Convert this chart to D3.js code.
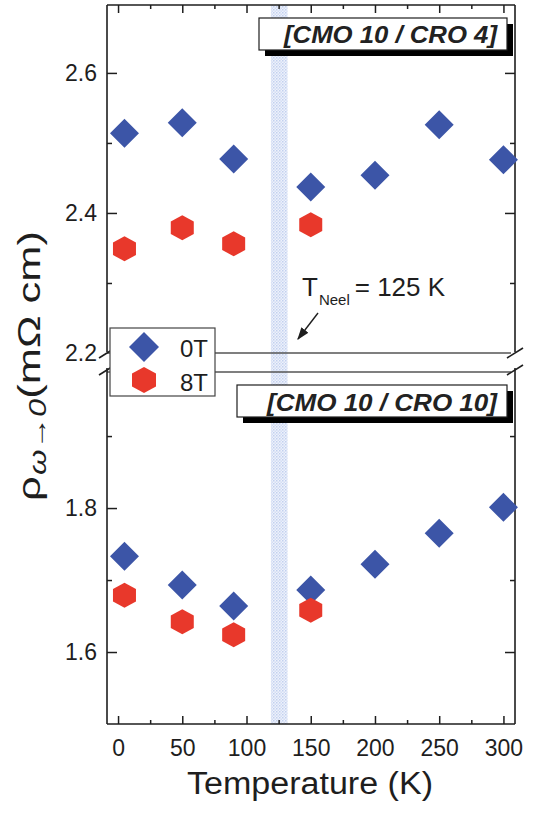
<!DOCTYPE html>
<html><head><meta charset="utf-8">
<script src="https://cdn.jsdelivr.net/npm/d3@7"></script>
<style>
html,body{margin:0;padding:0;background:#fff;}
svg{display:block;font-family:"Liberation Sans",Arial,sans-serif;}
</style></head>
<body><svg id="c" width="533" height="814"></svg>
<script>
// ---- data ----
const temps0T = [5, 50, 90, 150, 200, 250, 300];
const temps8T = [5, 50, 90, 150];
const top0T = [2.514, 2.529, 2.477, 2.437, 2.454, 2.526, 2.476];
const top8T = [2.349, 2.379, 2.356, 2.383];
const bot0T = [1.733, 1.693, 1.664, 1.686, 1.722, 1.765, 1.801];
const bot8T = [1.679, 1.642, 1.624, 1.658];
const xTicks = [0, 50, 100, 150, 200, 250, 300];
const xMinor = [25, 75, 125, 175, 225, 275];
const topTicks = [2.2, 2.4, 2.6];
const topMinor = [2.3, 2.5];
const botTicks = [1.6, 1.8];
const botMinor = [1.7, 1.9];
const neelBand = [119, 132];
const legendLabels = ["0T", "8T"];
const panelLabels = ["[CMO 10 / CRO 4]", "[CMO 10 / CRO 10]"];

// ---- layout ----
const L = 107, R = 515, T = 5, B = 724, brkTop = 353, brkBot = 372;
const blue = "#3c55a7", red = "#e8382b", ink = "#1e1e1e";

const svg = d3.select("#c");
const x = d3.scaleLinear().domain([-8.6, 309]).range([L, R]);
const yTop = d3.scaleLinear().domain([2.2, 2.697]).range([brkTop, T]);
const yBot = d3.scaleLinear().domain([1.5, 1.989]).range([B, brkBot]);

// pattern for Neel band
const defs = svg.append("defs");
const pat = defs.append("pattern").attr("id","dots").attr("width",3).attr("height",3).attr("patternUnits","userSpaceOnUse");
pat.append("rect").attr("width",3).attr("height",3).attr("fill","#eef2fb");
pat.append("rect").attr("width",1.5).attr("height",1.5).attr("fill","#c2d0ef");
pat.append("rect").attr("x",1.5).attr("y",1.5).attr("width",1.5).attr("height",1.5).attr("fill","#d3ddf4");
defs.append("marker").attr("id","arr").attr("viewBox","0 0 10 10").attr("refX",9).attr("refY",5)
  .attr("markerWidth",9).attr("markerHeight",9).attr("orient","auto")
  .append("path").attr("d","M0,1.5 L10,5 L0,8.5 Z").attr("fill",ink);

svg.append("rect").attr("x", x(neelBand[0])).attr("y", T).attr("width", x(neelBand[1]) - x(neelBand[0]))
  .attr("height", B - T).attr("fill","url(#dots)");

// break lines
[brkTop, brkBot].forEach(yy => svg.append("line").attr("x1", L).attr("x2", R - 4).attr("y1", yy).attr("y2", yy)
  .attr("stroke","#555").attr("stroke-width",1.6));

// frame
const fr = svg.append("g").attr("stroke", ink).attr("stroke-width", 1.6).attr("fill","none");
fr.append("line").attr("x1",L).attr("x2",R).attr("y1",T).attr("y2",T);
fr.append("line").attr("x1",L).attr("x2",R).attr("y1",B).attr("y2",B);
fr.append("line").attr("x1",L).attr("x2",L).attr("y1",T).attr("y2",brkTop-1);
fr.append("line").attr("x1",L).attr("x2",L).attr("y1",brkBot-4).attr("y2",B);
fr.append("line").attr("x1",R).attr("x2",R).attr("y1",T).attr("y2",brkTop-1);
fr.append("line").attr("x1",R).attr("x2",R).attr("y1",brkBot-4).attr("y2",B);
// break slashes
[[L, brkTop], [L, brkBot-2], [R, brkTop], [R, brkBot-2]].forEach(([bx, by]) =>
  fr.append("line").attr("x1", bx-8).attr("y1", by+5).attr("x2", bx+8).attr("y2", by-5));

function styleAxis(g){
  g.select(".domain").remove();
  g.selectAll(".tick line").attr("stroke", ink).attr("stroke-width", 1.5);
  g.selectAll(".tick text").attr("fill", ink).attr("font-size", 23).attr("font-family",'"Liberation Sans",Arial,sans-serif');
}
// x axes
svg.append("g").attr("transform",`translate(0,${B})`)
  .call(d3.axisBottom(x).tickValues(xTicks).tickSize(-8).tickPadding(16).tickFormat(d3.format("d"))).call(styleAxis);
svg.append("g").attr("transform",`translate(0,${B})`)
  .call(d3.axisBottom(x).tickValues(xMinor).tickSize(-4).tickFormat("")).call(styleAxis);
svg.append("g").attr("transform",`translate(0,${T})`)
  .call(d3.axisTop(x).tickValues(xTicks).tickSize(-8).tickFormat("")).call(styleAxis);
svg.append("g").attr("transform",`translate(0,${T})`)
  .call(d3.axisTop(x).tickValues(xMinor).tickSize(-4).tickFormat("")).call(styleAxis);

// y axes
function yAxes(scale, major, minor){
  const gl = svg.append("g").attr("transform",`translate(${L},0)`)
    .call(d3.axisLeft(scale).tickValues(major).tickSize(-10).tickPadding(10).tickFormat(d3.format(".1f"))).call(styleAxis);
  gl.selectAll(".tick").filter(d => d === 2.2).select("line").remove();
  svg.append("g").attr("transform",`translate(${L},0)`)
    .call(d3.axisLeft(scale).tickValues(minor).tickSize(-5).tickFormat("")).call(styleAxis);
  const gr = svg.append("g").attr("transform",`translate(${R},0)`)
    .call(d3.axisRight(scale).tickValues(major).tickSize(-10).tickFormat("")).call(styleAxis);
  gr.selectAll(".tick").filter(d => d === 2.2).remove();
  svg.append("g").attr("transform",`translate(${R},0)`)
    .call(d3.axisRight(scale).tickValues(minor).tickSize(-5).tickFormat("")).call(styleAxis);
}
yAxes(yTop, topTicks, topMinor);
yAxes(yBot, botTicks, botMinor);

// markers
const diamond = s => `M0,${-s} L${s},0 L0,${s} L${-s},0 Z`;
const hexagon = (rx, ry) => `M0,${-ry} L${rx},${-ry/2} L${rx},${ry/2} L0,${ry} L${-rx},${ry/2} L${-rx},${-ry/2} Z`;
function plot(temps, vals, scale, kind){
  svg.append("g").selectAll("path").data(temps.map((t,i)=>[t, vals[i]])).join("path")
    .attr("transform", d => `translate(${x(d[0])},${scale(d[1])})`)
    .attr("d", kind === "d" ? diamond(14.5) : hexagon(11.5, 12.5))
    .attr("fill", kind === "d" ? blue : red);
}
plot(temps0T, top0T, yTop, "d");
plot(temps8T, top8T, yTop, "h");
plot(temps0T, bot0T, yBot, "d");
plot(temps8T, bot8T, yBot, "h");

// panel label boxes
function labelBox(x0, y0, w, h, txt, tx, ty, len){
  svg.append("rect").attr("x", x0+6).attr("y", y0+6).attr("width", w).attr("height", h).attr("fill", "#000");
  svg.append("rect").attr("x", x0).attr("y", y0).attr("width", w).attr("height", h).attr("fill", "#fff")
    .attr("stroke", ink).attr("stroke-width", 1.2);
  svg.append("text").attr("x", tx).attr("y", ty).attr("font-size", 24)
    .attr("font-weight","bold").attr("font-style","italic").attr("fill", "#222")
    .attr("textLength", len).attr("lengthAdjust","spacingAndGlyphs").text(txt);
}
labelBox(259, 18, 248, 32, panelLabels[0], 284, 43, 213);
labelBox(237, 385, 270, 32, panelLabels[1], 267, 411, 230);

// legend
svg.append("rect").attr("x",110).attr("y",328).attr("width",105).attr("height",68).attr("fill","#fff")
  .attr("stroke", "#444").attr("stroke-width",1.2);
svg.append("path").attr("transform","translate(144,347)").attr("d", diamond(15)).attr("fill", blue);
svg.append("path").attr("transform","translate(144,380)").attr("d", hexagon(12, 13)).attr("fill", red);
svg.append("text").attr("x",180).attr("y",357).attr("font-size",24).attr("fill",ink).text(legendLabels[0]);
svg.append("text").attr("x",180).attr("y",391).attr("font-size",24).attr("fill",ink).text(legendLabels[1]);

// T_Neel annotation
const tn = svg.append("text").attr("x",302).attr("y",296).attr("font-size",26).attr("fill",ink);
tn.append("tspan").text("T");
tn.append("tspan").attr("font-size",15).attr("dy",9).attr("dx",1).text("Neel");
tn.append("tspan").attr("dy",-9).attr("dx",5).text("= 125 K");
svg.append("line").attr("x1",318).attr("y1",313).attr("x2",298).attr("y2",339)
  .attr("stroke",ink).attr("stroke-width",1.4).attr("marker-end","url(#arr)");

// axis titles
svg.append("text").attr("x", (187+433)/2).attr("y", 794).attr("text-anchor","middle")
  .attr("font-size", 31).attr("fill", ink).attr("textLength", 246).attr("lengthAdjust","spacingAndGlyphs")
  .text("Temperature (K)");
const yt = svg.append("text").attr("transform","translate(40,366) rotate(-90) scale(1.36,1)")
  .attr("text-anchor","middle").attr("font-size",32).attr("fill",ink);
yt.append("tspan").text("ρ");
yt.append("tspan").attr("font-size",24).attr("font-style","italic").attr("dy",6).attr("dx",1).text("ω→0");
yt.append("tspan").attr("dy",-6).text("(mΩ cm)");
</script></body></html>
